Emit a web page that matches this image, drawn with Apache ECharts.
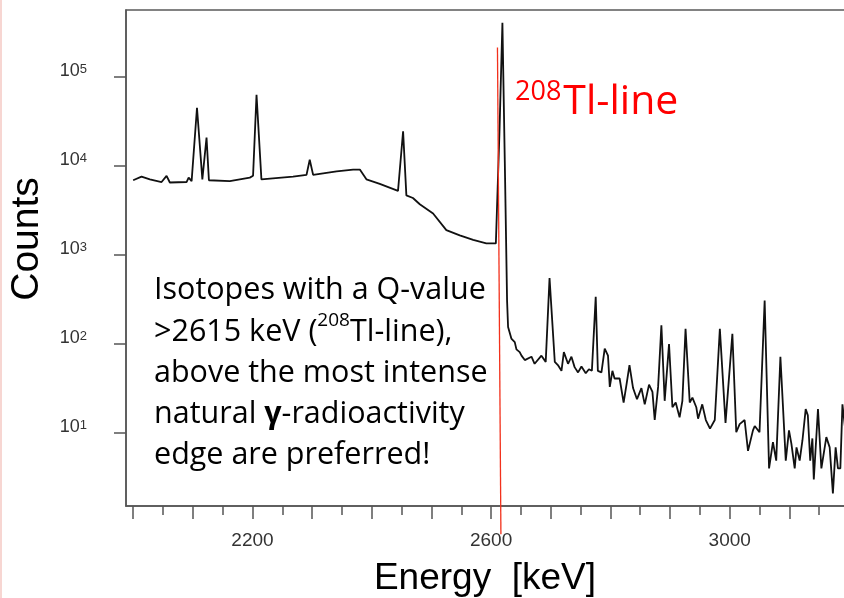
<!DOCTYPE html>
<html><head><meta charset="utf-8">
<script src="https://cdn.jsdelivr.net/npm/echarts@6/dist/echarts.min.js"></script>
<style>html,body{margin:0;padding:0;background:#fff}#c{width:844px;height:598px}</style>
</head><body><div id="c"></div>
<script>
// Spectrum (energy in keV, counts per bin)
const energy = [2000,2014,2028,2047.6,2056,2061.5,2089.5,2093,2098,2107,2116,2123,2127,2162,2195.6,2201,2206.8,2215,2268,2290.6,2296,2301.7,2341,2368.7,2380,2391,2413.4,2444,2452.5,2458,2469,2480.5,2502.8,2525,2547.5,2570,2592,2608,2614,2619,2623,2626.8,2628.5,
2634,2639.7,2642.5,2648,2651,2656.5,2667.7,2673,2684.4,2691.6,2698,2706.8,2712,2718,2722,2729,2734.7,2740,2745.8,2751.5,2758.7,2764,2769,2775.4,2779,2785,2790.5,2796,2799,2803.4,2807,2815.5,2822.2,2827,2832,2838,2844.6,2852,2857.6,2864.8,2870.5,2874.3,2880,2885.5,2891,2898.3,2904,2909.5,2916,2920.7,2926,2933,2937.5,2944,2947,2954,2960,2967,2975,2983.5,2993,3004.5,3011,3016.7,3025,3030.7,3039,3042,3050,3058.6,3066,3072.5,3078,3085,3094,3099.4,3103.4,3109,3112,3117.3,3122,3127.4,3131,3135,3138.6,3141,3148,3153.7,3162,3167.6,3173,3177.6,3181.5,3185.5,3189,3196];
const counts = [6920,7590,7080,6610,7760,6530,6610,7410,6760,45200,7080,20900,6920,6760,7410,7760,63100,7080,7590,7940,11750,7940,8710,9120,9120,7080,6310,5250,24550,4680,4370,3720,2930,1905,1660,1480,1350,1350,23400,407000,11200,309,155,
115,105,87,81,74,66,72,60,74,63,550,63,58,50,81,60,72,55,48,56,47,52,50,339,50,48,89,74,33,50,41,41,22,35,58,32,24,32,21,35,29,14,33,162,23,100,19.5,22,15,23,148,22,25,19.5,14.5,21,14,11.2,14,148,13,130,10.2,12.6,14,6.3,10.7,12,10.2,309,4.0,7.9,4.9,72,4.9,10.7,7.6,4.0,6.9,4.9,8.3,18.6,15.8,4.9,8.7,3.0,18.6,4.0,9.0,6.9,2.1,6.9,4.0,4.0,21,8];
// 208Tl marker line
const tlLineEnergy = [2610.7, 2616.5];
const tlLineCounts = [214000, 0.73];
// Axis ticks / labels
const yTickValues = [10, 100, 1000, 10000, 100000];
const xMajorTicks = [2000,2100,2200,2300,2400,2500,2600,2700,2800,2900,3000,3100,3200];
const xMinorTicks = [2050,2150,2250,2350,2450,2550,2650,2750,2850,2950,3050,3150];
const xLabelValues = [2200, 2600, 3000];

const chart = echarts.init(document.getElementById('c'), null, {renderer: 'canvas'});
const axisGrey = '#555';
const option = {
  animation: false,
  grid: {left: 126, top: 10, width: 723, height: 496, show: true, borderColor: '#5a5a5a', borderWidth: 1.5,
         backgroundColor: 'transparent', outerBoundsMode: 'none', containLabel: false},
  xAxis: [
    {type: 'value', min: 1988, max: 3200, position: 'bottom',
     axisLine: {show: true, lineStyle: {color: axisGrey, width: 1.5}},
     splitLine: {show: false},
     axisTick: {show: true, length: 13, customValues: xMajorTicks, lineStyle: {color: axisGrey, width: 1.5}},
     axisLabel: {customValues: xLabelValues, margin: 25, fontSize: 19, color: '#333', fontFamily: 'Liberation Sans',
       formatter: v => String(v)}},
    {type: 'value', min: 1988, max: 3200, position: 'bottom',
     axisLine: {show: false}, splitLine: {show: false},
     axisTick: {show: true, length: 9, customValues: xMinorTicks, lineStyle: {color: axisGrey, width: 1.5}},
     axisLabel: {show: false}}
  ],
  yAxis: {type: 'log', logBase: 10, min: 1.514, max: 566000,
    axisLine: {show: true, lineStyle: {color: axisGrey, width: 1.5}},
    splitLine: {show: false},
    axisTick: {show: true, length: 12, customValues: yTickValues, lineStyle: {color: axisGrey, width: 1.5}},
    axisLabel: {customValues: yTickValues, margin: 39, padding: [0, 0, 9, 0],
      formatter: v => '{b|10}{s|' + Math.round(Math.log10(v)) + '}',
      rich: {
        b: {fontSize: 18, fontFamily: 'Liberation Sans', color: '#333', lineHeight: 20, verticalAlign: 'top'},
        s: {fontSize: 13, fontFamily: 'Liberation Sans', color: '#333', lineHeight: 6, verticalAlign: 'top'}
      }}
  },
  series: [
    {type: 'line', xAxisIndex: 0, data: energy.map((e, i) => [e, counts[i]]), symbol: 'none', showSymbol: false,
     lineStyle: {color: '#111', width: 1.8}, clip: true, z: 2},
    {type: 'line', xAxisIndex: 0, data: tlLineEnergy.map((e, i) => [e, tlLineCounts[i]]), symbol: 'none', showSymbol: false,
     lineStyle: {color: '#f2311c', width: 1.3}, clip: false, z: 3}
  ],
  graphic: [
    {type: 'rect', left: 0, top: 0, shape: {width: 2, height: 598}, style: {fill: '#f7d6d2'}, silent: true},
    {type: 'text', x: 27.5, y: 239, rotation: Math.PI / 2,
     style: {text: 'Counts', fontSize: 39, fontFamily: 'Liberation Sans', fill: '#000', align: 'center', verticalAlign: 'middle'}},
    {type: 'text', x: 485, y: 579,
     style: {text: 'Energy  [keV]', fontSize: 37, fontFamily: 'Liberation Sans', fill: '#000', align: 'center', verticalAlign: 'middle'}},
    {type: 'text', x: 515, y: 92.2,
     style: {text: '208', fontSize: 27, fontFamily: 'Open Sans', fill: '#ff0000', align: 'left', verticalAlign: 'middle'}},
    {type: 'text', x: 563.3, y: 102,
     style: {text: 'Tl-line', fontSize: 41, fontFamily: 'Open Sans', fill: '#ff0000', align: 'left', verticalAlign: 'middle'}},
    {type: 'text', x: 154, y: 270,
     style: {text: 'Isotopes with a Q-value\n>2615 keV ({sup|208}Tl-line),\nabove the most intense\nnatural {g|γ}-radioactivity\nedge are preferred!',
       fontSize: 30.5, fontFamily: 'Open Sans', fill: '#000', lineHeight: 41.25, align: 'left', verticalAlign: 'top',
       rich: {
         sup: {fontSize: 19, fontFamily: 'Open Sans', fill: '#000', lineHeight: 32, verticalAlign: 'top'},
         g: {fontSize: 30.5, fontFamily: 'Open Sans', fontWeight: 'bold', fill: '#000', lineHeight: 41.25}
       }}}
  ]
};
chart.setOption(option);
</script></body></html>
